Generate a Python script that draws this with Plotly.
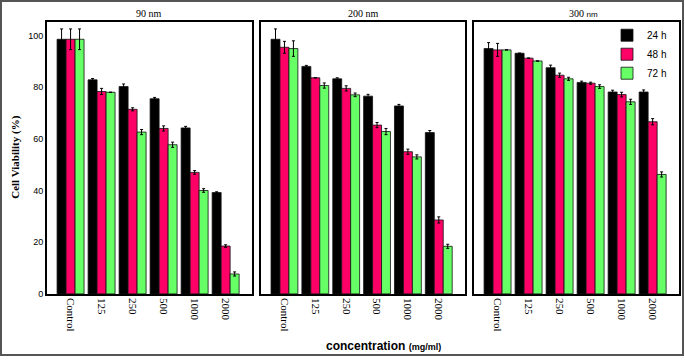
import plotly.graph_objects as go

W, H = 685, 362

categories = ["Control", "125", "250", "500", "1000", "2000"]
series_names = ["24 h", "48 h", "72 h"]
colors = ["#000000", "#FF0066", "#66FF66"]
panel_titles = ["90 nm", "200 nm", "300 <span style='font-size:8px;font-family:Liberation Sans'>nm</span>"]
y_ticks = [0, 20, 40, 60, 80, 100]

# 90 nm
v90_24 = [98.5, 82.8, 80.2, 75.5, 64.2, 39.2]
v90_48 = [98.5, 78.3, 71.4, 64.0, 47.0, 18.5]
v90_72 = [98.5, 78.0, 62.6, 57.7, 40.0, 7.7]
e90_24 = [4.0, 0.5, 1.0, 0.5, 0.6, 0.3]
e90_48 = [4.0, 1.2, 0.6, 1.0, 0.7, 0.5]
e90_72 = [4.0, 0.0, 1.0, 1.0, 0.7, 0.8]

# 200 nm
v200_24 = [98.5, 88.0, 83.2, 76.5, 72.7, 62.4]
v200_48 = [95.4, 83.6, 79.5, 65.3, 55.0, 28.6]
v200_72 = [94.9, 80.6, 77.0, 62.8, 53.0, 18.4]
e200_24 = [4.0, 0.4, 0.4, 0.7, 0.6, 0.8]
e200_48 = [2.3, 0.0, 1.0, 1.0, 1.0, 1.2]
e200_72 = [3.0, 1.0, 0.7, 1.2, 0.8, 0.8]

# 300 nm
v300_24 = [94.9, 93.1, 87.5, 81.8, 78.1, 78.1]
v300_48 = [94.4, 91.2, 84.6, 81.5, 77.1, 66.6]
v300_72 = [94.4, 90.1, 83.2, 80.2, 74.3, 46.2]
e300_24 = [2.3, 0.0, 1.0, 0.5, 0.7, 0.8]
e300_48 = [2.5, 0.0, 0.8, 0.4, 0.9, 1.2]
e300_72 = [0.0, 0.0, 0.6, 0.7, 1.0, 1.0]

panels = [
    ([v90_24, v90_48, v90_72], [e90_24, e90_48, e90_72]),
    ([v200_24, v200_48, v200_72], [e200_24, e200_48, e200_72]),
    ([v300_24, v300_48, v300_72], [e300_24, e300_48, e300_72]),
]

def px_x(p):
    return p / W

def px_y(p):
    return 1 - p / H

panel_px = [(47, 252), (261, 465), (474, 679)]
top_px, bot_px = 22, 298

fig = go.Figure()
for pi, (vals, errs) in enumerate(panels):
    ax = "" if pi == 0 else str(pi + 1)
    for si in range(3):
        fig.add_trace(go.Bar(
            x=categories, y=vals[si],
            name=series_names[si],
            marker=dict(color=colors[si], line=dict(color="#111111", width=0.8)),
            error_y=dict(type="data", array=errs[si], color="#000000", thickness=1, width=1.5),
            xaxis="x" + ax, yaxis="y" + ax,
            showlegend=(pi == 2),
            offsetgroup=str(si),
        ))

layout = dict(
    width=W, height=H, autosize=False,
    margin=dict(l=0, r=0, t=0, b=0),
    paper_bgcolor="white", plot_bgcolor="white",
    barmode="group", bargap=0.13, bargroupgap=0,
    showlegend=True,
    legend=dict(x=px_x(672), y=px_y(21), xanchor="right", yanchor="top",
                font=dict(family="Liberation Sans, Arial", size=10, color="#000"),
                bgcolor="rgba(0,0,0,0)", tracegroupgap=0, itemwidth=30),
)

for pi in range(3):
    ax = "" if pi == 0 else str(pi + 1)
    x0, x1 = panel_px[pi]
    layout["xaxis" + ax] = dict(
        domain=[px_x(x0), px_x(x1)], anchor="y" + ax,
        range=[-0.76, 5.85], type="category",
        showline=True, linecolor="#000", linewidth=1.8, mirror=True,
        ticks="", tickangle=90, showgrid=False, zeroline=False,
        tickfont=dict(family="Liberation Serif, Times New Roman", size=11, color="#000"),
    )
    layout["yaxis" + ax] = dict(
        domain=[px_y(bot_px), px_y(top_px)], anchor="x" + ax,
        range=[0, 105.3], tickvals=y_ticks,
        showticklabels=(pi == 0),
        showline=True, linecolor="#000", linewidth=1.8, mirror=True,
        ticks="", showgrid=False, zeroline=False,
        tickfont=dict(family="Liberation Sans, Arial", size=9, color="#000"),
    )

fig.update_layout(**layout)

annotations = []
title_x = [149, 363, 583]
for pi in range(3):
    annotations.append(dict(
        text=panel_titles[pi], x=px_x(title_x[pi]), y=px_y(14),
        xref="paper", yref="paper", showarrow=False,
        xanchor="center", yanchor="middle",
        font=dict(family="Liberation Serif, Times New Roman", size=10, color="#000"),
    ))
annotations.append(dict(
    text="<b>Cell Viability (%)</b>", x=px_x(16), y=px_y(160),
    xref="paper", yref="paper", showarrow=False, textangle=-90,
    xanchor="center", yanchor="middle",
    font=dict(family="Liberation Serif, Times New Roman", size=11, color="#000"),
))
annotations.append(dict(
    text="<b>concentration <span style='font-size:9px'>(mg/ml)</span></b>",
    x=px_x(383), y=px_y(351),
    xref="paper", yref="paper", showarrow=False,
    xanchor="center", yanchor="middle",
    font=dict(family="Liberation Sans, Arial", size=12, color="#000"),
))
fig.update_layout(annotations=annotations)

fig.add_shape(type="rect", xref="paper", yref="paper",
              x0=px_x(1), x1=px_x(683), y0=px_y(360), y1=px_y(1),
              line=dict(color="#555555", width=2))

fig.write_html("out.html",
               config={"displayModeBar": False, "responsive": False},
               post_script="document.body.style.margin='0';document.body.style.overflow='hidden';")
